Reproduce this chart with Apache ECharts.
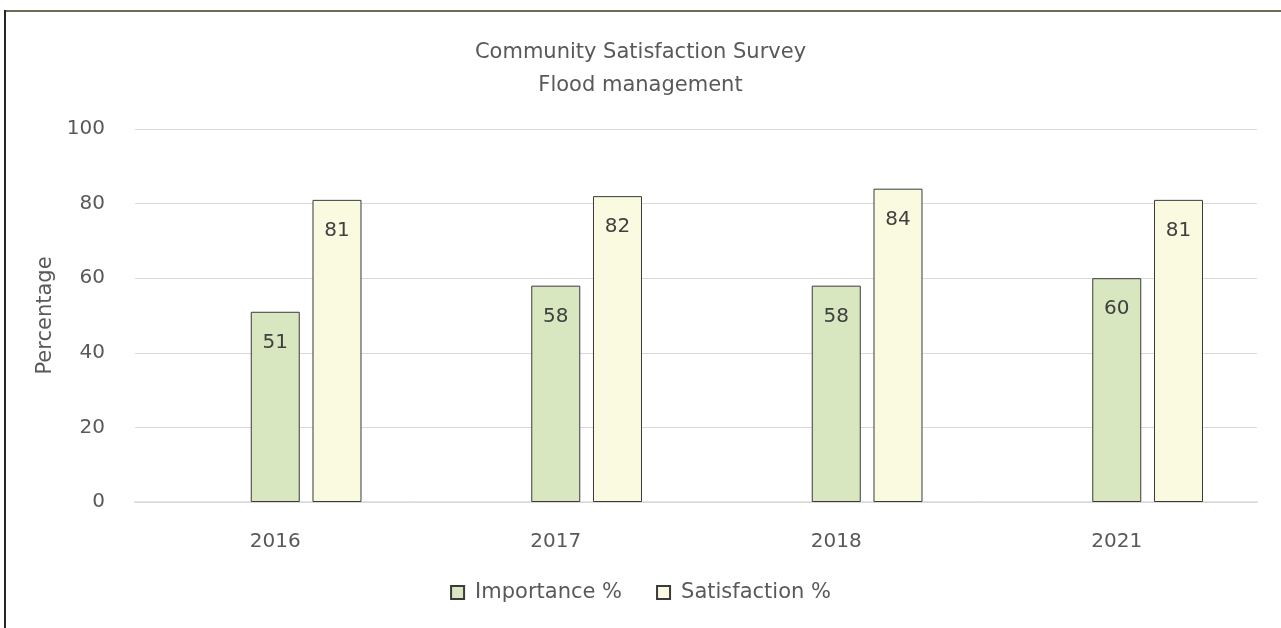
<!DOCTYPE html>
<html>
<head>
<meta charset="utf-8">
<script src="https://cdn.jsdelivr.net/npm/echarts@6/dist/echarts.min.js"></script>
<style>
  html, body { margin: 0; padding: 0; background: #ffffff; }
  #chart { width: 1281px; height: 628px; }
</style>
</head>
<body>
<div id="chart"></div>
<script>
// Survey years and the two measured percentages per year
const years = ['2016', '2017', '2018', '2021'];
const importance = [51, 58, 58, 60];
const satisfaction = [81, 82, 84, 81];
// Third, unused slot in each cluster (no values recorded)
const reserved = [null, null, null, null];
const yTicks = { min: 0, max: 100, interval: 20 };

const FONT = '"DejaVu Sans", "Noto Sans", sans-serif';
const TXT = '#595959';
const FS_TEXT = 21;
const FS_NUM = 20;

const chart = echarts.init(document.getElementById('chart'), null, { renderer: 'canvas' });

const labelStyle = {
  show: true,
  position: 'insideTop',
  distance: 21,
  color: '#404040',
  fontSize: FS_NUM,
  fontFamily: FONT
};

chart.setOption({
  backgroundColor: '#ffffff',
  animation: false,
  title: {
    text: 'Community Satisfaction Survey\nFlood management',
    left: 'center',
    top: 31,
    textStyle: { color: TXT, fontSize: FS_TEXT, fontWeight: 'normal', fontFamily: FONT, lineHeight: 33 }
  },
  graphic: [
    { type: 'line', shape: { x1: 4, y1: 11, x2: 1281, y2: 11 }, style: { stroke: '#6b6e56', lineWidth: 2 } },
    { type: 'line', shape: { x1: 5, y1: 10, x2: 5, y2: 628 }, style: { stroke: '#262626', lineWidth: 2 } }
  ],
  legend: {
    data: ['Importance %', 'Satisfaction %'],
    bottom: 20,
    left: 'center',
    itemWidth: 13,
    itemHeight: 13,
    itemGap: 34,
    icon: 'rect',
    textStyle: { color: TXT, fontSize: FS_TEXT, fontFamily: FONT, padding: [0, 0, 0, 6] }
  },
  grid: { left: 135, right: 24, top: 129, bottom: 126 },
  xAxis: {
    type: 'category',
    data: years,
    axisLine: { lineStyle: { color: '#d9d9d9', width: 1.5 } },
    axisTick: { show: false },
    axisLabel: { color: TXT, fontSize: FS_NUM, fontFamily: FONT, margin: 30 }
  },
  yAxis: {
    type: 'value',
    min: yTicks.min,
    max: yTicks.max,
    interval: yTicks.interval,
    name: 'Percentage',
    nameLocation: 'middle',
    nameGap: 73,
    nameRotate: 90,
    nameTextStyle: { color: TXT, fontSize: FS_TEXT, fontFamily: FONT },
    axisLine: { show: false },
    axisTick: { show: false },
    axisLabel: { color: TXT, fontSize: FS_NUM, fontFamily: FONT, margin: 30 },
    splitLine: { lineStyle: { color: '#d9d9d9', width: 1 } }
  },
  series: [
    {
      name: 'reserved',
      type: 'bar',
      data: reserved,
      barWidth: 49,
      barGap: '26%'
    },
    {
      name: 'Importance %',
      type: 'bar',
      data: importance,
      barWidth: 49,
      barGap: '26%',
      itemStyle: { color: '#d8e7bf', borderColor: '#3a3a3a', borderWidth: 1 },
      label: labelStyle
    },
    {
      name: 'Satisfaction %',
      type: 'bar',
      data: satisfaction,
      barWidth: 49,
      barGap: '26%',
      itemStyle: { color: '#fafae0', borderColor: '#3a3a3a', borderWidth: 1 },
      label: labelStyle
    }
  ]
});
</script>
</body>
</html>
